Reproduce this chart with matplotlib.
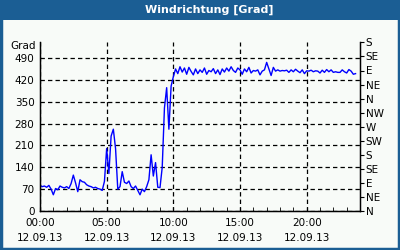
import numpy as np
import matplotlib
matplotlib.use('Agg')
import matplotlib.pyplot as plt
from matplotlib.patches import Rectangle
from matplotlib.ticker import MultipleLocator

# wind direction in degrees, one value every 10 minutes starting 00:00
direction = [
    82, 78, 80, 76, 82, 70,
    52, 72, 68, 80, 76, 74,
    78, 72, 88, 115, 90, 62,
    100, 94, 92, 84, 80, 78,
    74, 76, 72, 70, 66, 95,
    200, 120, 240, 262, 200, 70,
    78, 126, 92, 88, 96, 78,
    72, 80, 66, 52, 70, 62,
    78, 100, 180, 112, 155, 76,
    75, 140, 330, 395, 262, 400,
    430, 455, 440, 462, 445, 458,
    438, 460, 447, 436, 455, 440,
    452, 444, 458, 438, 450, 446,
    456, 440, 452, 437, 455, 445,
    458, 448, 462, 450, 444, 458,
    452, 438, 455, 446, 460, 442,
    450, 448, 452, 436, 448, 452,
    476, 455, 434, 460, 448, 452,
    448, 450, 449, 451, 444, 452,
    446, 454, 448, 443, 452, 440,
    449, 448, 451, 446, 449, 448,
    442, 451, 444, 453, 446, 452,
    444, 446, 444, 444, 452, 446,
    442, 453, 448, 438, 440,
]
hours = np.arange(len(direction)) / 6.0

xticks = [0, 5, 10, 15, 20]
xlabels = ['00:00\n12.09.13', '05:00\n12.09.13', '10:00\n12.09.13',
           '15:00\n12.09.13', '20:00\n12.09.13']
yticks = [0, 70, 140, 210, 280, 350, 420, 490]
compass = ['N', 'NE', 'E', 'SE', 'S', 'SW', 'W', 'NW',
           'N', 'NE', 'E', 'SE', 'S']

BLUE = '#1b5e94'
BG = '#f8fbf8'
FS = 7.5

fig = plt.figure(figsize=(4, 2.5), dpi=100)
fig.patch.set_facecolor(BG)

# title bar and frame
fig.patches.append(Rectangle((0, 230 / 250), 1, 20 / 250, transform=fig.transFigure,
                             facecolor=BLUE, edgecolor='none', zorder=0))
fig.patches.append(Rectangle((0.002, 0.003), 0.995, 0.995, transform=fig.transFigure,
                             facecolor='none', edgecolor=BLUE, lw=2.5, zorder=1))
fig.text(209 / 400, 1 - 10 / 250, 'Windrichtung [Grad]', color='white',
         fontsize=8, fontweight='bold', ha='center', va='center')

ax = fig.add_axes([40 / 400, 39 / 250, 320 / 400, 168.6 / 250])
ax.set_facecolor(BG)
ax.plot(hours, direction, color='#0000ff', lw=1)

ax.set_xlim(0, 24)
ax.set_ylim(0, 540)
ax.set_xticks(xticks)
ax.set_xticklabels(xlabels, fontsize=FS, linespacing=1.6)
ax.xaxis.set_minor_locator(MultipleLocator(1))
ax.tick_params(axis='x', which='both', direction='in', length=3, pad=5)
ax.set_yticks(yticks)
ax.set_yticklabels([str(v) for v in yticks], fontsize=FS)
ax.tick_params(axis='y', length=0, pad=4)
ax.grid(True, color='black', lw=0.9, linestyle=(0, (3.5, 2.5)))
ax.spines['top'].set_visible(False)
for s in ('left', 'bottom', 'right'):
    ax.spines[s].set_linewidth(1)

ax2 = ax.twinx()
ax2.set_ylim(0, 540)
ax2.set_yticks(np.arange(0, 541, 45))
ax2.set_yticklabels(compass, fontsize=FS)
ax2.tick_params(axis='y', direction='out', length=3, pad=1)
ax2.spines['top'].set_visible(False)

fig.text(36 / 400, 1 - 46 / 250, 'Grad', fontsize=FS, ha='right', va='center')

fig.savefig('out.png', dpi=100, facecolor=BG)
